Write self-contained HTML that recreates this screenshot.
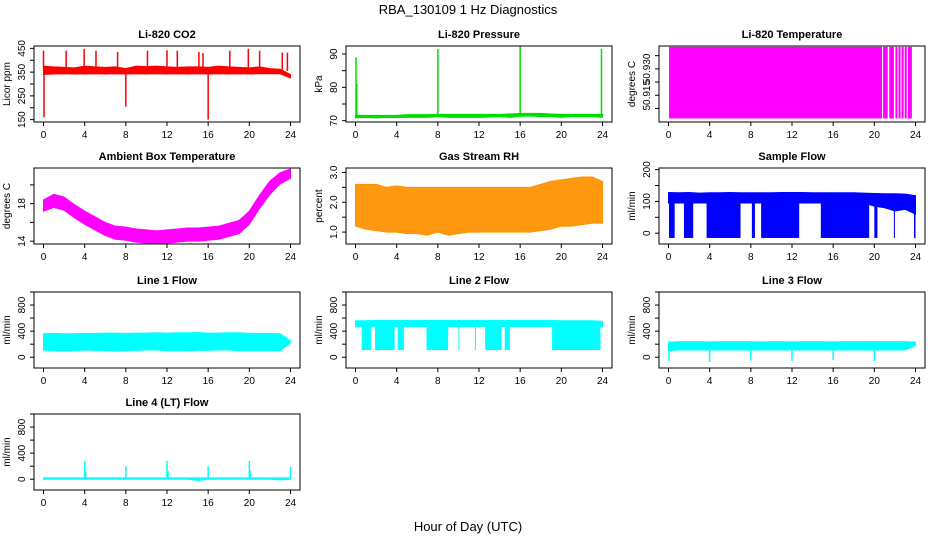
<!DOCTYPE html>
<html><head><meta charset="utf-8">
<style>
body{margin:0;background:#fff;}
svg{display:block;font-family:"Liberation Sans",sans-serif;}
</style></head>
<body>
<svg id="c" width="936" height="540" viewBox="0 0 936 540">
<text x="468" y="14" text-anchor="middle" font-size="13">RBA_130109  1 Hz Diagnostics</text>
<text x="468" y="531" text-anchor="middle" font-size="13">Hour of Day (UTC)</text>
</svg>
<script>
// ---- data ----
const hourTicks = [0,4,8,12,16,20,24];
const hours = [0,1,2,3,4,5,6,7,8,9,10,11,12,13,14,15,16,17,18,19,20,21,22,23,24];
// CO2
const co2Low  = [340,342,343,342,342,343,342,343,342,343,342,343,342,343,342,343,342,343,342,343,342,343,343,343,325];
const co2High = [375,372,370,368,375,372,370,372,365,375,373,375,372,370,372,372,370,375,372,370,368,372,365,362,340];
const co2SpikeHours = [0.0,2.2,3.95,5.1,7.2,10.1,12.0,13.0,15.1,15.5,18.1,19.9,21.0,23.2,23.7,0.05,8.0,16.0];
const co2SpikeVals  = [440,440,448,440,435,440,442,440,435,430,440,448,440,432,432,160,205,150];
// Pressure
const presLow  = [70.8,71.0,70.8,71.0,70.9,71.0,71.0,71.0,71.2,71.0,71.0,71.0,71.0,71.1,71.2,71.0,71.3,71.4,71.2,71.2,71.0,71.2,71.2,71.2,71.0];
const presHigh = [71.6,71.6,71.6,71.6,71.6,71.8,71.8,71.8,71.9,71.9,71.9,71.9,71.9,71.9,71.9,72.0,72.2,72.2,72.2,72.0,71.9,71.9,71.9,71.9,71.9];
const presSpikeHours = [0.05,0.12,8.0,16.0,23.9];
const presSpikeVals  = [89,81,91.5,92.3,91.5];
// Li-820 temperature: filled spans [start,end] hours
const tempSpanStart = [0.05,20.85,21.45,22.05,22.35,22.65,22.95,23.25];
const tempSpanEnd   = [20.75,21.3,21.9,22.25,22.55,22.85,23.15,23.65];
const tempTop = 50.9425, tempBottom = 50.9018;
// Ambient box temperature centre (per hour)
const ambCenter = [17.8,18.3,18.0,17.2,16.5,15.9,15.3,14.9,14.8,14.6,14.5,14.4,14.5,14.6,14.7,14.7,14.8,14.9,15.2,15.5,16.5,18.2,19.7,20.7,21.2];
const ambHalfWidth = [0.6,0.7,0.7,0.7,0.7,0.7,0.7,0.7,0.7,0.7,0.7,0.7,0.7,0.7,0.7,0.7,0.7,0.7,0.7,0.7,0.7,0.7,0.7,0.6,0.5];
// Gas stream RH
const rhLow  = [1.2,1.1,1.05,1.0,1.0,0.95,0.95,0.9,1.0,0.9,0.95,1.0,1.0,1.0,1.0,1.0,1.0,1.0,1.05,1.1,1.2,1.2,1.25,1.3,1.3];
const rhHigh = [2.6,2.6,2.6,2.5,2.55,2.5,2.5,2.5,2.5,2.5,2.5,2.5,2.5,2.5,2.5,2.5,2.5,2.5,2.6,2.7,2.75,2.8,2.85,2.85,2.7];
// Sample flow
const sfTop = [128,127,128,126,127,127,128,127,127,127,127,128,128,128,127,127,127,127,127,126,125,124,124,123,118];
const sfBase = [95,95,95,95,95,95,95,95,95,95,95,95,95,95,95,95,95,95,95,95,85,80,70,75,60];
const sfDropStart = [0.05,1.5,3.7,8.1,9.0,14.8,20.0,21.9,23.85];
const sfDropEnd   = [0.6,2.4,7.0,8.4,12.7,19.5,20.3,22.0,24.0];
const sfDropVal = -15;
// Line 1 flow
const l1Low  = [110,100,95,100,110,105,100,95,100,105,110,110,100,100,100,105,105,110,110,100,100,100,100,100,220];
const l1High = [360,365,360,360,365,365,370,370,365,370,370,375,370,375,375,380,370,370,375,375,365,365,365,360,250];
// Line 2 flow
const l2Low  = [470,470,470,470,470,470,470,470,470,470,470,470,470,470,470,470,470,470,470,470,470,470,470,470,470];
const l2High = [560,560,565,565,565,565,565,565,565,565,565,565,565,565,565,565,565,565,565,565,560,560,560,560,550];
const l2DropStart = [0.6,1.9,4.1,6.9,10.0,11.6,12.6,14.5,19.1];
const l2DropEnd   = [1.5,3.8,4.7,9.0,10.1,11.7,14.2,15.0,23.8];
const l2DropVal = 110;
// Line 3 flow
const l3Low  = [100,110,110,110,110,110,110,110,110,110,110,110,110,110,110,110,110,110,110,110,110,110,110,110,180];
const l3High = [230,240,240,240,235,240,240,240,240,235,240,240,235,240,240,240,235,240,240,240,240,240,240,240,230];
const l3DipHours = [0.05,4.0,8.0,12.0,16.0,20.0];
const l3DipVals  = [-60,-70,-50,-60,-45,-60];
// Line 4 flow
const l4Low  = [0,0,0,0,0,0,0,0,0,0,0,0,0,0,0,-20,0,0,0,0,0,0,0,-10,0];
const l4High = [20,20,20,20,20,20,20,20,20,20,20,20,20,20,20,20,20,20,20,20,20,20,20,20,20];
const l4SpikeHours = [4.0,4.1,8.0,12.0,12.1,16.0,20.0,20.1,24.0];
const l4SpikeVals  = [280,130,200,280,130,200,280,130,190];

// ---- drawing ----
const NS="http://www.w3.org/2000/svg";
const svg=document.getElementById('c');
function mk(tag,attrs,parent){const e=document.createElementNS(NS,tag);for(const k in attrs)e.setAttribute(k,attrs[k]);(parent||svg).appendChild(e);return e;}

const colLeft=[34,346,659], rowTop=[46,168,292,414], W=266, H=76;

function panel(col,row,title,ylab,ymin,ymax,ticks,labels,name,dec){
  const L=colLeft[col],T=rowTop[row];
  const g=mk('g',{});
  
  
  const xs=h=>L+9.5+h*(247/24);
  const ys=v=>T+H-(v-ymin)/(ymax-ymin)*H;
  const plot=mk('g',{},g);
  
  
  const box=mk('rect',{x:L,y:T,width:W,height:H,fill:'none',stroke:'#000','stroke-width':1},g);
  
  
  const t=mk('text',{x:L+W/2,y:T-8,'text-anchor':'middle','font-size':11,'font-weight':'bold'},g);
  t.textContent=title;
  
  
  const xa=mk('g',{},g);
  
  
  hourTicks.forEach(h=>{
    mk('line',{x1:xs(h),x2:xs(h),y1:T+H,y2:T+H+4,stroke:'#000'},xa);
    const lt=mk('text',{x:xs(h),y:T+H+16,'text-anchor':'middle','font-size':10},xa);
    lt.textContent=h;
  });
  const ya=mk('g',{},g);
  
  
  ticks.forEach(v=>{mk('line',{x1:L-4,x2:L,y1:ys(v),y2:ys(v),stroke:'#000'},ya);});
  labels.forEach(v=>{
    const y=ys(v),x=L-9;
    const lt=mk('text',{x:x,y:y,'text-anchor':'middle','font-size':10,transform:`rotate(-90 ${x} ${y})`},ya);
    lt.textContent=dec!==undefined?v.toFixed(dec):String(v);
  });
  const yl=mk('text',{x:L-24,y:T+H/2,'text-anchor':'middle','font-size':10,transform:`rotate(-90 ${L-24} ${T+H/2})`},g);
  yl.textContent=ylab;
  
  
  return {xs,ys,plot};
}
function band(p,low,high,color,fill){
  let d='M'+hours.map((h,i)=>p.xs(h)+','+p.ys(high[i])).join('L');
  for(let i=hours.length-1;i>=0;i--)d+='L'+p.xs(hours[i])+','+p.ys(low[i]);
  const e=mk('path',{d:d+'Z',fill:fill||color,stroke:color,'stroke-width':1},p.plot);
  
  
}
function spikes(p,hs,vs,base,color){
  hs.forEach((h,i)=>{
    const e=mk('line',{x1:p.xs(h),x2:p.xs(h),y1:p.ys(base),y2:p.ys(vs[i]),stroke:color,'stroke-width':1.5},p.plot);
    
    
  });
}
function drops(p,s,e,top,bot,color){
  s.forEach((h,i)=>{
    const r=mk('rect',{x:p.xs(h),y:p.ys(top),width:Math.max(1,p.xs(e[i])-p.xs(h)),height:p.ys(bot)-p.ys(top),fill:color},p.plot);
    
    
  });
}
const lfT=[0,200,400,600,800,1000], lfL=[0,400,800];

let p=panel(0,0,'Li-820 CO2','Licor ppm',140,460,[150,200,250,300,350,400,450],[150,250,350,450],'co2');
band(p,co2Low,co2High,'#ff0000'); spikes(p,co2SpikeHours,co2SpikeVals,355,'#ff0000');
p=panel(1,0,'Li-820 Pressure','kPa',69.6,92.4,[70,75,80,85,90],[70,80,90],'pressure');
band(p,presLow,presHigh,'#00dd00'); spikes(p,presSpikeHours,presSpikeVals,71.5,'#00dd00');
p=panel(2,0,'Li-820 Temperature','degrees C',50.8998,50.9430,[50.9075,50.915,50.9225,50.930,50.9375],[50.915,50.930],'li820-temp',3);
drops(p,tempSpanStart,tempSpanEnd,tempTop,tempBottom,'#ff00ff');
p=panel(0,1,'Ambient Box Temperature','degrees C',13.7,21.8,[14,16,18,20],[14,18],'ambient-temp');
band(p,ambCenter.map((c,i)=>c-ambHalfWidth[i]),ambCenter.map((c,i)=>c+ambHalfWidth[i]),'#ff00ff');
p=panel(1,1,'Gas Stream RH','percent',0.6,3.15,[1.0,1.5,2.0,2.5,3.0],[1.0,2.0,3.0],'gas-rh',1);
band(p,rhLow,rhHigh,'#ff9000','#ff9a10');
p=panel(2,1,'Sample Flow','ml/min',-34,205,[0,50,100,150,200],[0,100,200],'sample-flow');
band(p,sfBase,sfTop,'#0000ff'); drops(p,sfDropStart,sfDropEnd,110,sfDropVal,'#0000ff');
p=panel(0,2,'Line 1 Flow','ml/min',-165,1000,lfT,lfL,'line1-flow'); band(p,l1Low,l1High,'#00ffff');
p=panel(1,2,'Line 2 Flow','ml/min',-165,1000,lfT,lfL,'line2-flow'); band(p,l2Low,l2High,'#00ffff'); drops(p,l2DropStart,l2DropEnd,480,l2DropVal,'#00ffff');
p=panel(2,2,'Line 3 Flow','ml/min',-165,1000,lfT,lfL,'line3-flow'); band(p,l3Low,l3High,'#00ffff'); spikes(p,l3DipHours,l3DipVals,150,'#00ffff');
p=panel(0,3,'Line 4 (LT) Flow','ml/min',-165,1000,lfT,lfL,'line4-flow'); band(p,l4Low,l4High,'#00ffff'); spikes(p,l4SpikeHours,l4SpikeVals,10,'#00ffff');
</script>
</body></html>
